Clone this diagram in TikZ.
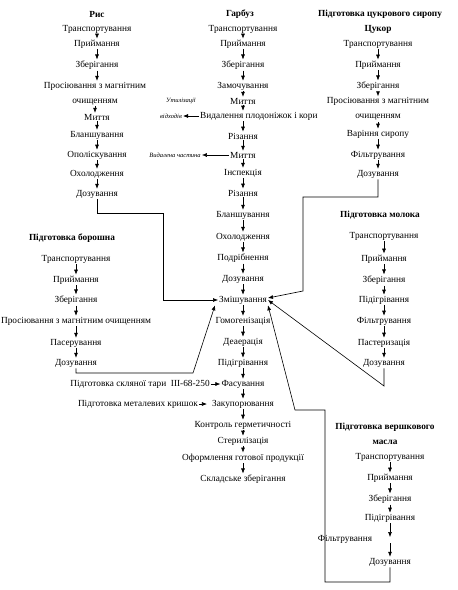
\documentclass[tikz,border=0pt]{standalone}
\usepackage{fontspec}
\setmainfont{Liberation Serif}
\usetikzlibrary{arrows.meta}

\begin{document}
\begin{tikzpicture}[x=1pt, y=-1pt,
    stage/.style={inner sep=1pt, font=\fontsize{9.3}{11}\selectfont},
    head/.style={inner sep=1pt, font=\fontsize{9.3}{11}\selectfont\bfseries},
    note/.style={inner sep=1pt, font=\fontsize{6.5}{8}\selectfont\itshape},
    flow/.style={-{Latex[length=5pt, width=4pt]}, semithick}]
  \useasboundingbox (0,0) rectangle (458,590);

  % Rice
  \node[head] (rice_0) at (97,14) {Рис};
  \node[stage] (rice_1) at (97,29) {Транспортування};
  \node[stage] (rice_2) at (97,44) {Приймання};
  \node[stage] (rice_3) at (97,65) {Зберігання};
  \node[stage, align=center] (rice_4) at (95,93.5) {Просіювання з магнітним\\[4pt]очищенням};
  \node[stage] (rice_5) at (97,117) {Миття};
  \node[stage] (rice_6) at (97,135) {Бланшування};
  \node[stage] (rice_7) at (97,155) {Ополіскування};
  \node[stage] (rice_8) at (97,174) {Охолодження};
  \node[stage] (rice_9) at (97,194) {Дозування};

  % Pumpkin and the main line
  \node[head] (pump_0) at (240,14) {Гарбуз};
  \node[stage] (pump_1) at (243,29) {Транспортування};
  \node[stage] (pump_2) at (243,44) {Приймання};
  \node[stage] (pump_3) at (243,65) {Зберігання};
  \node[stage] (pump_4) at (243,86) {Замочування};
  \node[stage] (pump_5) at (243,101) {Миття};
  \node[stage, anchor=west] (pump_6) at (199,116) {Видалення плодоніжок і кори};
  \node[stage] (pump_7) at (243,136) {Різання};
  \node[stage] (pump_8) at (243,155) {Миття};
  \node[stage] (pump_9) at (243,173) {Інспекція};
  \node[stage] (pump_10) at (243,193) {Різання};
  \node[stage] (pump_11) at (243,215) {Бланшування};
  \node[stage] (pump_12) at (243,237) {Охолодження};
  \node[stage] (pump_13) at (243,258) {Подрібнення};
  \node[stage] (pump_14) at (243,279) {Дозування};
  \node[stage] (mix) at (243,300) {Змішування};
  \node[stage] (proc_1) at (243,321) {Гомогенізація};
  \node[stage] (proc_2) at (243,342) {Деаерація};
  \node[stage] (proc_3) at (243,363) {Підігрівання};
  \node[stage] (proc_4) at (243,384) {Фасування};
  \node[stage] (proc_5) at (243,404) {Закупорювання};
  \node[stage] (proc_6) at (243,425) {Контроль герметичності};
  \node[stage] (proc_7) at (243,441) {Стерилізація};
  \node[stage] (proc_8) at (243,458) {Оформлення готової продукції};
  \node[stage] (proc_9) at (243,479) {Складське зберігання};

  % Side notes
  \node[note] (util_1) at (181,101) {Утилізації};
  \node[note] (util_2) at (171,116) {відходів};
  \node[note] (cut_off) at (175,155) {Видалена частина};
  \node[stage] (glass) at (140,384) {Підготовка скляної тари~~III-68-250};
  \node[stage] (lids) at (138,404) {Підготовка металевих кришок};

  % Sugar syrup
  \node[head] (sug_00) at (380,14) {Підготовка цукрового сиропу};
  \node[head] (sug_0) at (378,29) {Цукор};
  \node[stage] (sug_1) at (378,44) {Транспортування};
  \node[stage] (sug_2) at (378,65) {Приймання};
  \node[stage] (sug_3) at (378,86) {Зберігання};
  \node[stage, align=center] (sug_4) at (378,109) {Просіювання з магнітним\\[4pt]очищенням};
  \node[stage] (sug_5) at (378,134) {Варіння сиропу};
  \node[stage] (sug_6) at (378,155) {Фільтрування};
  \node[stage] (sug_7) at (378,174) {Дозування};

  % Flour
  \node[head] (flour_0) at (72,238) {Підготовка борошна};
  \node[stage] (flour_1) at (76,259) {Транспортування};
  \node[stage] (flour_2) at (76,280) {Приймання};
  \node[stage] (flour_3) at (76,300) {Зберігання};
  \node[stage] (flour_4) at (76,321) {Просіювання з магнітним очищенням};
  \node[stage] (flour_5) at (76,343) {Пасерування};
  \node[stage] (flour_6) at (76,363) {Дозування};

  % Milk
  \node[head] (milk_0) at (380,215) {Підготовка молока};
  \node[stage] (milk_1) at (384,236) {Транспортування};
  \node[stage] (milk_2) at (384,259) {Приймання};
  \node[stage] (milk_3) at (384,280) {Зберігання};
  \node[stage] (milk_4) at (384,300) {Підігрівання};
  \node[stage] (milk_5) at (384,321) {Фільтрування};
  \node[stage] (milk_6) at (384,343) {Пастеризація};
  \node[stage] (milk_7) at (384,363) {Дозування};

  % Butter
  \node[head, align=center] (oil_0) at (385,433.5) {Підготовка вершкового\\[4pt]масла};
  \node[stage] (oil_1) at (390,457) {Транспортування};
  \node[stage] (oil_2) at (390,478) {Приймання};
  \node[stage] (oil_3) at (390,499) {Зберігання};
  \node[stage] (oil_4) at (390,518) {Підігрівання};
  \node[stage] (oil_5) at (345,539) {Фільтрування};
  \node[stage] (oil_6) at (390,562) {Дозування};
  \coordinate (oil_skip) at (390,540);

  % Turning points of the feed lines
  \coordinate (rice_turn) at (163,213);
  \coordinate (sug_turn) at (303,197);
  \coordinate (sug_down) at (303,291);
  \coordinate (flour_turn) at (193,373);
  \coordinate (milk_turn) at (384,386);
  \coordinate (oil_turn_1) at (325,582);
  \coordinate (oil_turn_2) at (295,410);

  % Steps inside each column
  \foreach \a/\b in {rice_1/rice_2, rice_2/rice_3, rice_3/rice_4, rice_4/rice_5,
      rice_5/rice_6, rice_6/rice_7, rice_7/rice_8, rice_8/rice_9,
      pump_1/pump_2, pump_2/pump_3, pump_3/pump_4, pump_4/pump_5,
      pump_7/pump_8, pump_8/pump_9, pump_9/pump_10, pump_10/pump_11,
      pump_11/pump_12, pump_12/pump_13, pump_13/pump_14, pump_14/mix, mix/proc_1,
      proc_1/proc_2, proc_2/proc_3, proc_3/proc_4, proc_4/proc_5, proc_5/proc_6,
      proc_6/proc_7, proc_7/proc_8, proc_8/proc_9,
      sug_1/sug_2, sug_2/sug_3, sug_3/sug_4, sug_4/sug_5, sug_5/sug_6, sug_6/sug_7,
      flour_1/flour_2, flour_2/flour_3, flour_3/flour_4, flour_4/flour_5, flour_5/flour_6,
      milk_1/milk_2, milk_2/milk_3, milk_3/milk_4, milk_4/milk_5, milk_5/milk_6, milk_6/milk_7,
      oil_1/oil_2, oil_2/oil_3, oil_3/oil_4}
    \draw[flow] (\a.south) -- (\a.south |- \b.north);
  \draw[flow] (pump_5.south) -- (pump_5.south |- pump_6.north);
  \draw[flow] (pump_5.south |- pump_6.south) -- (pump_7.north);
  \draw[flow] (oil_4.south) -- ([yshift=3pt]oil_skip);
  \draw[flow] ([yshift=-3pt]oil_skip) -- (oil_6.north);

  % Side arrows
  \draw[flow] (pump_6.west) -- (util_2.east);
  \draw[flow] (pump_8.west) -- (cut_off.east);
  \draw[flow] (glass.east) -- (proc_4.west);
  \draw[flow, shorten >=4pt] (lids.east) -- (proc_5.west);

  % Feeds into mixing
  \draw[flow] (rice_9.south) |- (rice_turn) |- (mix.west);
  \draw[flow] (sug_7.south) |- (sug_turn) -- (sug_down) -- ([yshift=2pt]mix.east);
  \draw[flow] (flour_6.south) |- (flour_turn) -- ([xshift=-3pt]mix.south west);
  \draw[flow] (milk_7.south) -- (milk_turn) -- (mix.east);
  \draw[flow] (oil_6.south) |- (oil_turn_1) |- (oil_turn_2) -- (mix.south east);
\end{tikzpicture}
\end{document}
